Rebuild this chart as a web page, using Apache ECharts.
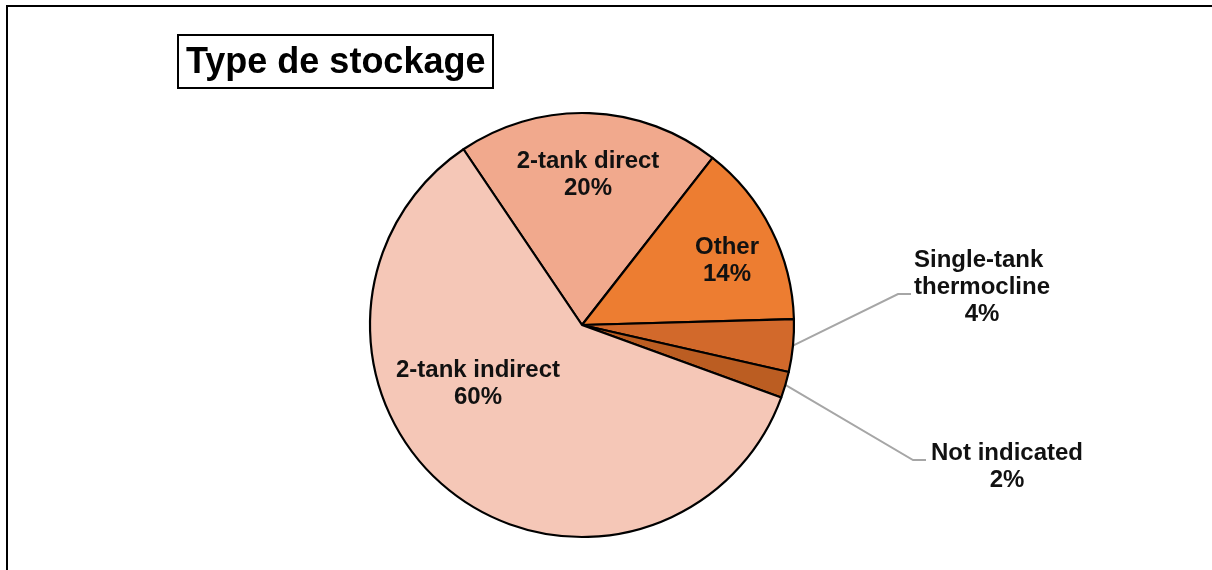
<!DOCTYPE html>
<html>
<head>
<meta charset="utf-8">
<title>Type de stockage</title>
<script src="https://cdn.jsdelivr.net/npm/echarts@6/dist/echarts.min.js"></script>
<style>
  html, body { margin: 0; padding: 0; background: #fff; }
  #wrap { position: relative; width: 1212px; height: 570px; overflow: hidden; }
  #frame { position: absolute; left: 6px; top: 5px; width: 1210px; height: 570px;
           border-top: 2px solid #000; border-left: 2px solid #000; }
  #main { position: absolute; left: 0; top: 0; width: 1212px; height: 570px; }
</style>
</head>
<body>
<div id="wrap">
  <div id="frame"></div>
  <div id="main"></div>
</div>
<script>
// categories and shares (%), clockwise from the top-left cut
var types = ['2-tank direct', 'Other', 'Single-tank thermocline', 'Not indicated', '2-tank indirect'];
var shares = [20, 14, 4, 2, 60];
var colors = ['#F1A98D', '#ED7D31', '#D2692B', '#BB5D22', '#F5C7B7'];

// where each label sits, and the elbow of the leader line (outside labels only)
var labelAt = [[588, 175], [727, 261], [982, 287], [1007, 467], [478, 384]];
var elbowAt = [null, null, [898, 294], [913, 460], null];

var myChart = echarts.init(document.getElementById('main'));

var pieData = types.map(function (t, i) {
  var outside = !!elbowAt[i];
  var item = {
    name: t,
    value: shares[i],
    itemStyle: { color: colors[i] },
    label: { position: outside ? 'outside' : 'inside' },
    labelLine: { show: outside }
  };
  if (t === 'Single-tank thermocline') {
    item.label.width = 160;
    item.label.overflow = 'break';
  }
  return item;
});

myChart.setOption({
  animation: false,
  title: {
    text: 'Type de stockage',
    left: 178,
    top: 35,
    padding: [10, 8, 6, 8],
    borderColor: '#000',
    borderWidth: 2,
    textStyle: {
      fontFamily: 'Liberation Sans, Arial, sans-serif',
      fontWeight: 'bold',
      fontSize: 36,
      lineHeight: 37,
      color: '#000'
    }
  },
  series: [{
    type: 'pie',
    center: [582, 325],
    radius: 212,
    startAngle: 124,
    clockwise: true,
    avoidLabelOverlap: false,
    emphasis: { disabled: true },
    itemStyle: { borderColor: '#000', borderWidth: 2.2 },
    label: {
      show: true,
      formatter: '{b}\n{d}%',
      fontFamily: 'Liberation Sans, Arial, sans-serif',
      fontWeight: 'bold',
      fontSize: 24,
      lineHeight: 27,
      color: '#111',
      align: 'center'
    },
    labelLine: {
      lineStyle: { color: '#A6A6A6', width: 2 }
    },
    labelLayout: function (p) {
      var pos = labelAt[p.dataIndex];
      var out = { x: pos[0], y: pos[1], align: 'center', verticalAlign: 'middle' };
      var e = elbowAt[p.dataIndex];
      if (e && p.labelLinePoints) {
        out.labelLinePoints = [p.labelLinePoints[0], e, [e[0] + 13, e[1]]];
      }
      return out;
    },
    data: pieData
  }]
});
</script>
</body>
</html>
